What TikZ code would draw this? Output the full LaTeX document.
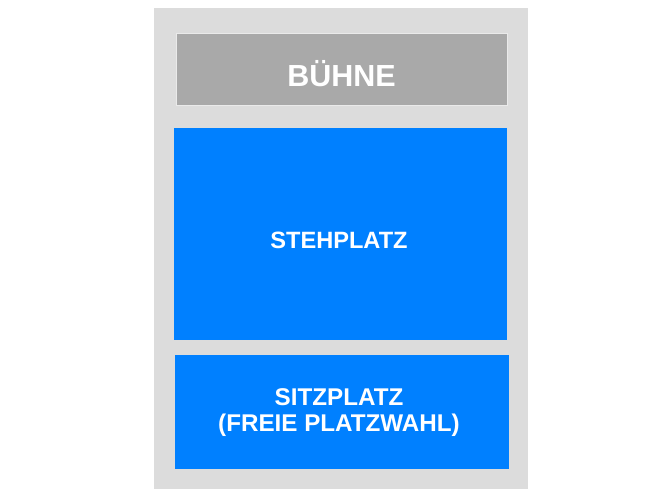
\documentclass[tikz,border=0pt]{standalone}
\usepackage{fontspec}
\setmainfont{Liberation Sans}
\definecolor{outergray}{HTML}{DCDCDC}
\definecolor{stagegray}{HTML}{A9A9A9}
\definecolor{stageedge}{HTML}{EAEAEA}
\definecolor{seatblue}{HTML}{0080FF}
\tikzset{
  area/.style={fill=seatblue, draw=none},
  lbl/.style={text=white, font=\bfseries, align=center, inner sep=0pt},
}
\begin{document}
\begin{tikzpicture}[x=1pt,y=-1pt]
\useasboundingbox (0,0) rectangle (670,502);
\fill[outergray] (154,8) rectangle (528,489);
\draw[fill=stagegray, draw=stageedge, line width=1pt] (176,34) rectangle (507,106);
\fill[seatblue] (174,128) rectangle (507,340);
\fill[seatblue] (175,355) rectangle (509,469);
\node[lbl, font=\fontsize{30.5}{30}\bfseries, anchor=base] (buehne) at (341.5,87) {BÜHNE};
\node[lbl, font=\fontsize{23.6}{26}\bfseries, anchor=base] (steh) at (339,249) {STEHPLATZ};
\node[lbl, font=\fontsize{24.2}{26}\bfseries, anchor=base] (sitz) at (339,406) {SITZPLATZ};
\node[lbl, font=\fontsize{24.2}{26}\bfseries, anchor=base] (sitz2) at (339,432) {(FREIE PLATZWAHL)};
\end{tikzpicture}
\end{document}
